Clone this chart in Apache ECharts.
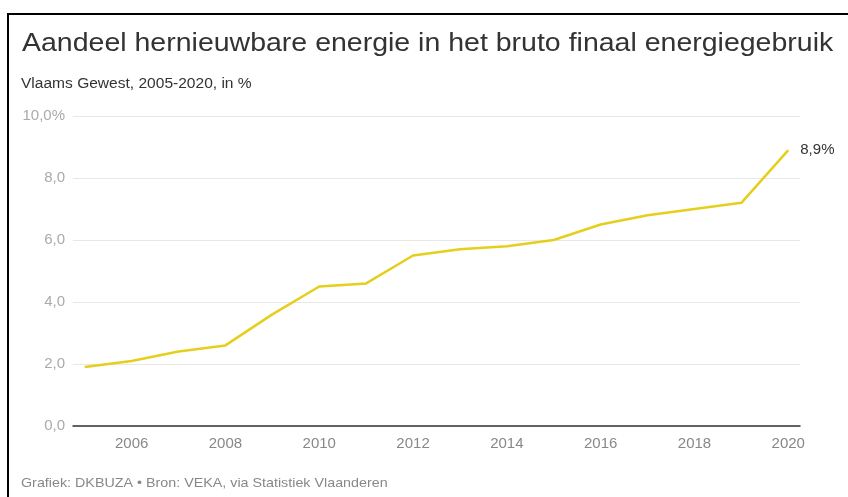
<!DOCTYPE html>
<html>
<head>
<meta charset="utf-8">
<script src="https://cdn.jsdelivr.net/npm/echarts@6/dist/echarts.min.js"></script>
<style>
  html, body { margin: 0; padding: 0; background: #fff; }
  #chart { width: 848px; height: 497px; }
</style>
</head>
<body>
<div id="chart"></div>
<script>
// jaren en aandeel hernieuwbare energie (%)
const years = [2005, 2006, 2007, 2008, 2009, 2010, 2011, 2012, 2013, 2014, 2015, 2016, 2017, 2018, 2019, 2020];
const share = [1.9, 2.1, 2.4, 2.6, 3.6, 4.5, 4.6, 5.5, 5.7, 5.8, 6.0, 6.5, 6.8, 7.0, 7.2, 8.9];
const xTicks = [2006, 2008, 2010, 2012, 2014, 2016, 2018, 2020];

const titleText = "Aandeel hernieuwbare energie in het bruto finaal energiegebruik";
const subText = "Vlaams Gewest, 2005-2020, in %";
const footText = "Grafiek: DKBUZA • Bron: VEKA, via Statistiek Vlaanderen";

const FONT = "'Liberation Sans', Arial, sans-serif";
const fmt = (v) => v.toFixed(1).replace(".", ",");

// the reference is a bit stretched horizontally
const textEl = (text, x, y, size, color, sx) => ({
  type: "text",
  x: x,
  y: y,
  scaleX: sx,
  style: {
    text: text,
    x: 0,
    y: 0,
    font: size + "px " + FONT,
    fill: color,
    verticalAlign: "middle",
  },
});

const chart = echarts.init(document.getElementById("chart"));
chart.setOption({
  backgroundColor: "#fff",
  animation: false,
  textStyle: { fontFamily: FONT },
  graphic: [
    {
      type: "polyline",
      shape: { points: [[8, 497], [8, 14], [848, 14]] },
      style: { stroke: "#000", lineWidth: 2, fill: null },
    },
    textEl(titleText, 22, 44.5, 25, "#333", 1.14),
    textEl(subText, 21, 84, 14, "#333", 1.11),
    textEl(footText, 21, 483, 13, "#888", 1.1),
  ],
  grid: { left: 73, right: 48, top: 116, bottom: 71 },
  xAxis: {
    type: "value",
    min: 2004.75,
    max: 2020.25,
    axisLine: { show: true, onZero: false, lineStyle: { color: "#333", width: 1.5 } },
    axisTick: { show: false },
    splitLine: { show: false },
    axisLabel: {
      customValues: xTicks,
      color: "#888",
      fontSize: 15,
      margin: 10,
      formatter: (v) => String(v),
    },
  },
  yAxis: {
    type: "value",
    min: 0,
    max: 10,
    interval: 2,
    axisLine: { show: false },
    axisTick: { show: false },
    splitLine: { lineStyle: { color: "#e8e8e8", width: 1 } },
    axisLabel: {
      color: "#aaa",
      fontSize: 15,
      margin: 8,
      formatter: (v) => (v === 10 ? fmt(v) + "%" : fmt(v)),
    },
  },
  series: [
    {
      type: "line",
      data: years.map((y, i) => [y, share[i]]),
      showSymbol: false,
      lineStyle: { color: "#e6cf1c", width: 2.5 },
      endLabel: {
        show: true,
        formatter: (p) => fmt(p.value[1]) + "%",
        color: "#333",
        fontSize: 15,
        distance: 12,
      },
    },
  ],
});
</script>
</body>
</html>
